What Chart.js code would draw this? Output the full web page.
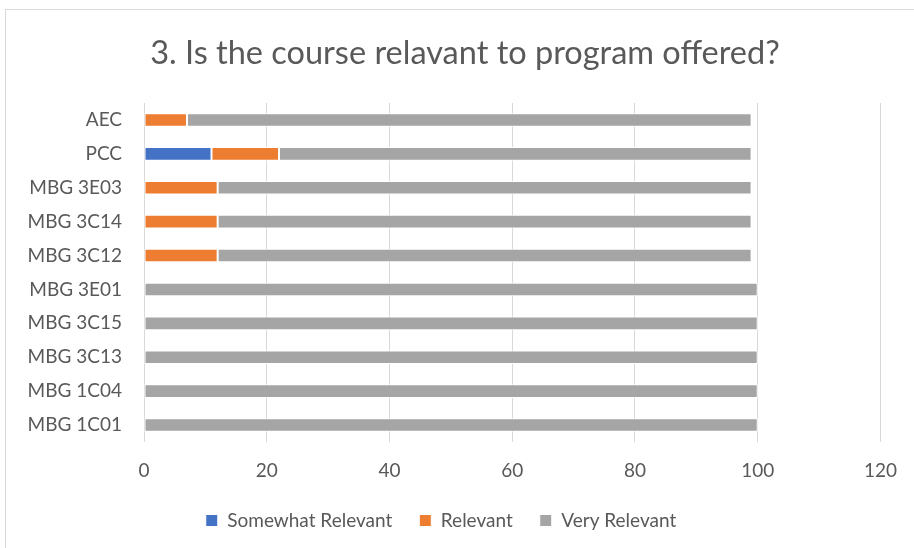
<!DOCTYPE html>
<html>
<head>
<meta charset="utf-8">
<script src="https://cdn.jsdelivr.net/npm/chart.js@4/dist/chart.umd.min.js"></script>
<style>
  html, body { margin: 0; padding: 0; background: #fff; overflow: hidden; }
  #wrap { position: relative; width: 914px; height: 548px; }
  #frame { position: absolute; left: 5px; top: 9px; width: 940px; height: 600px; border: 1px solid #D9D9D9; box-sizing: border-box; }
  canvas { position: absolute; left: 0; top: 0; }
</style>
</head>
<body>
<div id="wrap">
  <div id="frame"></div>
  <canvas id="c" width="914" height="548"></canvas>
</div>
<script>
const categories = ["AEC", "PCC", "MBG 3E03", "MBG 3C14", "MBG 3C12", "MBG 3E01", "MBG 3C15", "MBG 3C13", "MBG 1C04", "MBG 1C01"];
const somewhatRelevant = [0, 11, 0, 0, 0, 0, 0, 0, 0, 0];
const relevant = [7, 11, 12, 12, 12, 0, 0, 0, 0, 0];
const veryRelevant = [92, 77, 87, 87, 87, 100, 100, 100, 100, 100];
const xTicks = [0, 20, 40, 60, 80, 100, 120];
const titleText = "3. Is the course relavant to program offered?";

const FONT = "Lato, 'Open Sans', sans-serif";
const TXT = "#595959";

const shiftTitle = {
  id: "shiftTitle",
  afterLayout(chart) {
    const t = chart.titleBlock;
    if (t) { t.left += 24; t.right += 24; }
  }
};

new Chart(document.getElementById("c"), {
  type: "bar",
  data: {
    labels: categories,
    datasets: [
      { label: "Somewhat Relevant", data: somewhatRelevant, backgroundColor: "#4472C4", borderColor: "#FFFFFF", borderWidth: 1, borderSkipped: false },
      { label: "Relevant", data: relevant, backgroundColor: "#ED7D31", borderColor: "#FFFFFF", borderWidth: 1, borderSkipped: false },
      { label: "Very Relevant", data: veryRelevant, backgroundColor: "#A5A5A5", borderColor: "#FFFFFF", borderWidth: 1, borderSkipped: false }
    ]
  },
  plugins: [shiftTitle],
  options: {
    indexAxis: "y",
    responsive: false,
    devicePixelRatio: 1,
    animation: false,
    layout: { padding: { left: 0, right: 32, top: 0, bottom: 8 } },
    datasets: { bar: { categoryPercentage: 0.8, barPercentage: 0.5 } },
    scales: {
      x: {
        stacked: true,
        min: 0, max: 120,
        afterBuildTicks: (s) => { s.ticks = xTicks.map(v => ({ value: v })); },
        grid: { color: "#D9D9D9", lineWidth: 1, drawTicks: false },
        border: { display: false },
        ticks: { color: TXT, font: { family: FONT, size: 19 }, padding: 17 },
        afterFit: (s) => { s.height = 42; }
      },
      y: {
        stacked: true,
        grid: { display: false, drawTicks: false },
        border: { display: false },
        ticks: { color: TXT, font: { family: FONT, size: 19 }, padding: 22 },
        afterFit: (s) => { s.width = 144; }
      }
    },
    plugins: {
      title: {
        display: true,
        text: titleText,
        color: TXT,
        font: { family: FONT, size: 32.5, weight: "normal" },
        padding: { top: 34, bottom: 30 }
      },
      legend: {
        position: "bottom",
        labels: {
          color: TXT,
          font: { family: FONT, size: 19 },
          boxWidth: 12, boxHeight: 12,
          padding: 27
        }
      },
      tooltip: { enabled: false }
    }
  }
});
</script>
</body>
</html>
